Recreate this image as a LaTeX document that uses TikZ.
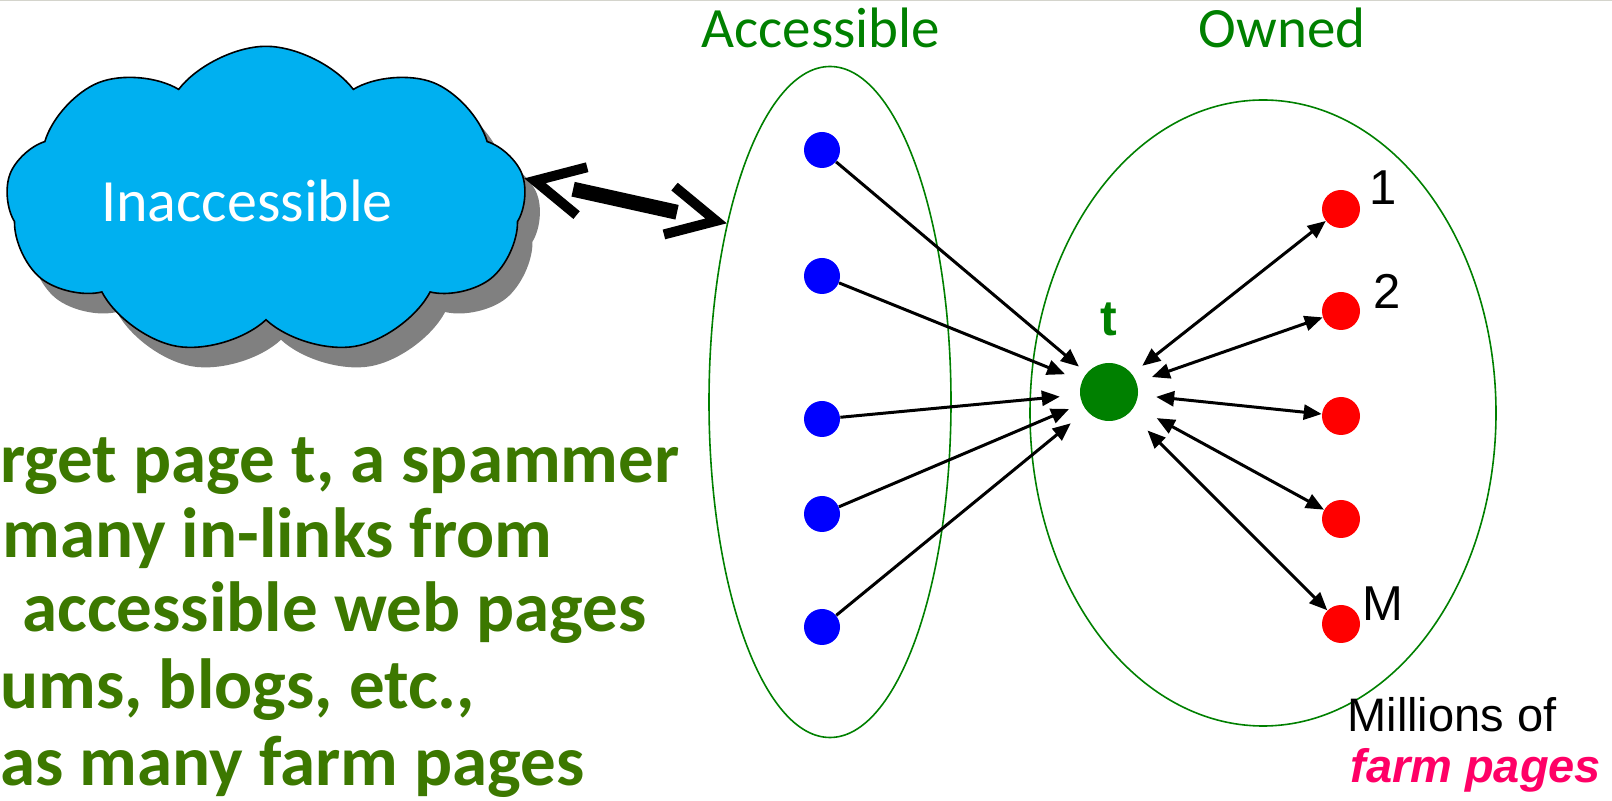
\documentclass[tikz,border=0pt]{standalone}
\usepackage{fontspec}
\setmainfont{Carlito}
\newfontfamily\arialfont{Liberation Sans}
\usetikzlibrary{arrows.meta,shapes.geometric,shapes.symbols,shadows}
\definecolor{cloudblue}{RGB}{0,176,240}
\definecolor{setgreen}{RGB}{0,128,0}
\definecolor{textgreen}{RGB}{60,120,0}
\definecolor{farmpink}{RGB}{255,0,102}
\definecolor{shadowgray}{RGB}{128,128,128}
\definecolor{edgegray}{RGB}{212,212,204}
\begin{document}
\begin{tikzpicture}[x=0.5pt,y=-0.5pt,>={Triangle[length=9pt,width=7.5pt]},
    bnode/.style={circle,fill=blue,minimum size=18pt,inner sep=0pt},
    rnode/.style={circle,fill=red,minimum size=19pt,inner sep=0pt},
    tnode/.style={circle,fill=setgreen,minimum size=29pt,inner sep=0pt},
    set/.style={ellipse,draw=setgreen,line width=0.8pt,inner sep=0pt},
    setlbl/.style={anchor=base,text=setgreen,font=\fontsize{28.5}{34}\selectfont},
    numlbl/.style={font=\arialfont\fontsize{24.5}{29}\selectfont},
    link/.style={line width=1.5pt},
    slide/.style={anchor=base west,inner sep=0pt,text=textgreen,font=\bfseries\fontsize{35.5}{42}\selectfont},
    cloudbox/.style={cloud,cloud puffs=9,cloud puff arc=105,aspect=1.9,draw,line width=0.8pt,
      fill=cloudblue,minimum width=260pt,minimum height=142pt,inner sep=0pt,text=white,
      font=\fontsize{30}{36}\selectfont,
      drop shadow={shadow xshift=7.5pt,shadow yshift=-10pt,fill=shadowgray,opacity=1}}]

    \clip (0,0) rectangle (1612,801);
    \draw[edgegray,line width=0.6pt] (0,0.6) -- (1612,0.6);

    % the web outside
    \node[cloudbox] (cloud) at (266,201) {Inaccessible\hspace*{19pt}};

    % the two sets
    \node[set,minimum width=121pt,minimum height=335.5pt] (acc) at (830,402) {};
    \node[set,minimum width=233pt,minimum height=313pt] (own) at (1263,413) {};
    \node[setlbl] (acclbl) at (821,48) {Accessible};
    \node[setlbl] (ownlbl) at (1282,48) {Owned};

    \path[tips,line width=5pt,{Straight Barb[length=24pt,width=24.5pt]}-{Straight Barb[length=24pt,width=24.5pt]}] (cloud.5) -- (acc.120);
    \draw[line width=7.5pt,shorten <=25pt,shorten >=25.5pt] (cloud.5) -- (acc.120);

    % pages
    \node[bnode] (b1) at (822,150) {};
    \node[bnode] (b2) at (822,276) {};
    \node[bnode] (b3) at (822,419) {};
    \node[bnode] (b4) at (822,514) {};
    \node[bnode] (b5) at (822,627) {};

    \node[tnode] (t) at (1109,392) {};
    \node[text=setgreen,font=\arialfont\bfseries\fontsize{25}{30}\selectfont] (tlbl) at (1109,319) {t};

    \node[rnode] (r1) at (1341,209) {};
    \node[rnode] (r2) at (1341,311) {};
    \node[rnode] (r3) at (1341,416) {};
    \node[rnode] (r4) at (1341,519) {};
    \node[rnode] (r5) at (1341,624) {};
    \node[numlbl] (n1) at (1383,188) {1};
    \node[numlbl] (n2) at (1387,291) {2};
    \node[numlbl] (n5) at (1383,604) {M};

    \draw[link,->,shorten >=5pt] (b1) -- (t);
    \draw[link,->,shorten >=9pt] (b2) -- (t);
    \draw[link,->,shorten >=10pt] (b3) -- (t);
    \draw[link,->,shorten >=7pt] (b4) -- (t);
    \draw[link,->,shorten >=10pt] (b5) -- (t);

    \draw[link,<->,shorten <=6.5pt] (t) -- (r1);
    \draw[link,<->,shorten <=8pt] (t) -- (r2);
    \draw[link,<->,shorten <=9pt] (t) -- (r3);
    \draw[link,<->,shorten <=12.5pt] (t) -- (r4);
    \draw[link,<->,shorten <=12.5pt] (t) -- (r5);

    \node[anchor=base west,inner sep=0pt,font=\arialfont\fontsize{23.5}{28}\selectfont] (mill) at (1347,732) {Millions of};
    \node[anchor=base west,inner sep=0pt,text=farmpink,font=\arialfont\bfseries\itshape\fontsize{23.5}{28}\selectfont] (farm) at (1350,782) {farm pages};

    % slide text
    \node[slide] (l1) at (0,483) {rget page t, a spammer};
    \node[slide] (l2) at (2,558) {many in-links from};
    \node[slide] (l3) at (22,632) {accessible web pages};
    \node[slide] (l4) at (0,709) {ums, blogs, etc.,};
    \node[slide] (l5) at (0,785) {as many farm pages};

\end{tikzpicture}
\end{document}
